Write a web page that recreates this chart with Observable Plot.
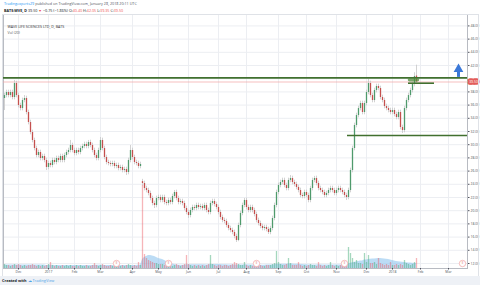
<!DOCTYPE html>
<html><head><meta charset="utf-8">
<script src="https://cdn.jsdelivr.net/npm/d3@7"></script>
<script src="https://cdn.jsdelivr.net/npm/@observablehq/plot@0.6"></script>
<style>
body{margin:0;width:480px;height:285px;background:#fff;font-family:"Open Sans",sans-serif;overflow:hidden;position:relative}
.hl{position:absolute;left:4px;font-size:3.7px;line-height:4px;white-space:nowrap;color:#50535e}
#chart{position:absolute;left:0;top:14px;width:480px;height:262px}
#chart svg{position:absolute;left:0;top:0}
#panel{position:absolute;left:2px;top:14px;width:475px;height:261px;border:1px solid #dfe2e7;pointer-events:none}
#ftr{position:absolute;left:0;top:276px;width:480px;height:9px;background:#eef1f6;font-size:3.8px;line-height:9px;white-space:nowrap}
</style></head><body>
<div class="hl" style="top:2px"><span style="color:#2196f3">Tradingexperts29</span> published on TradingView.com, January 28, 2018 20:11 UTC</div>
<div class="hl" style="top:9px;color:#131722"><b>BATS:WVE, D</b> 39.50 <span style="color:#ef5350">▼</span> −0.75 (−1.86%) O:<span style="color:#ef5350">40.40</span> H:<span style="color:#ef5350">42.05</span> L:<span style="color:#ef5350">39.35</span> C:<span style="color:#ef5350">39.50</span></div>
<div id="chart"></div>
<div id="panel"></div>
<div id="ftr"><span style="margin-left:2px;font-weight:bold;color:#131722">Created with</span> <span style="color:#4da3e8">☁ TradingView</span></div>
<script>
// Daily-ish bars, Nov 2016 – Jan 26 2018 (WVE)
const open = [37.00,37.45,37.91,37.45,37.91,37.15,39.27,37.45,35.94,35.48,36.70,37.00,34.88,33.36,31.85,30.64,29.42,28.36,28.82,27.91,
28.21,27.61,26.55,27.15,26.85,27.61,27.30,27.91,27.61,28.21,27.61,28.36,28.82,29.12,29.88,29.12,28.67,29.12,28.82,29.42,
29.73,30.03,29.73,30.33,29.88,29.12,28.36,27.91,29.12,30.64,29.42,28.06,27.30,27.15,27.00,27.15,26.70,26.85,26.39,26.55,
26.09,26.24,25.79,27.61,29.12,28.06,27.30,27.15,26.70,24.40,24.12,23.36,23.06,22.61,21.85,21.09,20.79,21.85,22.00,21.55,
22.00,21.24,21.09,21.55,21.24,22.15,22.76,21.85,21.24,21.39,21.09,20.33,19.73,19.27,20.03,20.48,20.33,20.79,20.48,20.64,
20.33,20.79,20.03,19.73,21.09,21.39,20.94,20.48,19.73,18.97,18.52,18.36,17.76,17.30,17.00,16.70,16.09,15.48,17.76,19.58,
20.79,21.55,20.48,20.03,20.48,20.03,19.42,18.52,18.06,17.61,17.30,17.45,17.15,16.70,17.30,18.82,20.79,22.76,23.82,24.27,
24.58,23.82,23.36,24.58,24.88,24.27,23.97,23.52,23.06,22.30,22.15,22.76,22.30,21.55,23.36,24.58,24.88,24.12,23.36,23.06,
22.76,22.30,22.61,23.06,23.36,23.06,22.61,23.06,23.36,23.06,22.76,22.30,22.00,23.06,26.09,29.42,32.91,34.42,35.48,36.24,
34.88,36.24,37.91,39.27,37.45,36.70,38.21,38.82,38.52,37.15,36.70,35.79,35.48,35.18,34.88,35.18,34.58,34.12,34.88,32.61,
32.15,35.48,36.70,37.45,38.21,39.12,40.40];
const high = [37.80,38.26,38.26,38.26,38.26,39.73,39.62,37.80,36.29,37.05,37.45,37.35,35.23,33.71,32.20,30.99,29.77,29.17,29.17,28.56,
28.56,27.96,27.50,27.50,27.96,27.96,28.26,28.26,28.56,28.56,28.71,29.17,29.47,30.64,30.23,29.47,29.47,29.47,29.77,30.08,
30.38,30.38,30.64,30.68,30.23,29.47,28.71,29.47,31.09,30.99,29.77,28.41,27.65,27.50,27.50,27.50,27.20,27.20,26.90,26.90,
26.59,26.59,27.96,29.88,29.47,28.41,27.65,27.50,27.35,24.75,24.47,23.71,23.41,22.96,22.20,21.44,22.20,22.35,22.35,22.35,
22.35,21.59,21.90,21.90,22.50,23.06,23.11,22.20,21.74,21.74,21.44,20.68,20.08,20.38,20.83,20.83,21.14,21.14,20.99,20.99,
21.14,21.14,20.38,21.44,21.74,21.74,21.29,20.83,20.08,19.32,18.87,18.71,18.11,17.65,17.35,17.05,16.44,18.11,19.93,21.14,
21.85,21.90,20.83,20.83,20.83,20.38,19.77,18.87,18.41,17.96,17.80,17.80,17.50,17.65,19.17,21.14,23.11,24.17,24.62,24.93,
24.93,24.17,24.93,25.33,25.23,24.62,24.32,23.87,23.41,22.65,23.11,23.11,22.65,23.71,24.93,25.20,25.23,24.47,23.71,23.41,
23.11,22.96,23.41,23.71,23.71,23.41,23.41,23.71,23.71,23.41,23.11,22.65,23.41,26.44,29.77,33.26,34.77,35.83,36.59,36.59,
36.59,38.26,39.90,39.62,37.80,38.56,39.17,39.17,38.87,37.50,37.05,36.14,35.83,35.53,35.53,35.53,34.93,35.23,35.23,32.96,
35.83,37.05,37.80,38.56,39.47,40.90,42.05];
const low = [35.18,37.10,37.10,37.10,36.80,36.80,37.10,35.59,35.13,35.13,36.35,34.53,33.01,31.50,30.29,29.07,28.01,28.01,27.56,27.56,
27.26,26.09,26.20,26.50,26.50,26.95,26.95,27.26,27.26,27.26,27.26,28.01,28.47,28.77,28.77,28.32,28.32,28.47,28.47,29.07,
29.38,29.38,29.38,29.53,28.77,28.01,27.56,27.56,28.77,29.07,27.71,26.95,26.80,26.65,26.65,26.35,26.35,26.04,26.04,25.74,
25.74,25.33,25.44,27.26,27.71,26.95,26.80,26.35,26.35,23.77,23.01,22.71,22.26,21.50,20.74,20.33,20.44,21.50,21.20,21.20,
20.89,20.74,20.74,20.89,20.89,21.80,21.50,20.89,20.89,20.74,19.98,19.38,18.82,18.92,19.68,19.98,19.98,20.13,20.13,19.98,
19.98,19.68,19.38,19.38,20.74,20.59,20.13,19.38,18.62,18.17,18.01,17.41,16.95,16.65,16.35,15.74,15.18,15.30,17.41,19.23,
20.44,20.13,19.68,19.68,19.68,19.07,18.17,17.71,17.26,16.95,16.95,16.80,16.39,16.35,16.95,18.47,20.44,22.41,23.47,23.92,
23.47,23.01,23.01,24.23,23.92,23.62,23.17,22.71,21.95,21.80,21.80,21.95,21.20,21.20,23.01,24.23,23.77,23.01,22.71,22.41,
21.95,21.95,22.26,22.71,22.71,22.26,22.26,22.71,22.71,22.41,21.95,21.55,21.65,22.71,25.74,29.07,32.56,34.07,35.13,34.53,
34.53,35.89,37.56,37.10,36.35,36.35,37.86,38.17,36.80,36.35,35.44,35.13,34.83,34.53,34.53,34.23,33.77,33.77,32.26,31.70,
31.80,35.13,36.35,37.10,37.86,38.77,39.35];
const close = [37.45,37.91,37.45,37.91,37.15,39.27,37.45,35.94,35.48,36.70,37.00,34.88,33.36,31.85,30.64,29.42,28.36,28.82,27.91,28.21,
27.61,26.55,27.15,26.85,27.61,27.30,27.91,27.61,28.21,27.61,28.36,28.82,29.12,29.88,29.12,28.67,29.12,28.82,29.42,29.73,
30.03,29.73,30.33,29.88,29.12,28.36,27.91,29.12,30.64,29.42,28.06,27.30,27.15,27.00,27.15,26.70,26.85,26.39,26.55,26.09,
26.24,25.79,27.61,29.12,28.06,27.30,27.15,26.70,27.00,24.12,23.36,23.06,22.61,21.85,21.09,20.79,21.85,22.00,21.55,22.00,
21.24,21.09,21.55,21.24,22.15,22.76,21.85,21.24,21.39,21.09,20.33,19.73,19.27,20.03,20.48,20.33,20.79,20.48,20.64,20.33,
20.79,20.03,19.73,21.09,21.39,20.94,20.48,19.73,18.97,18.52,18.36,17.76,17.30,17.00,16.70,16.09,15.48,17.76,19.58,20.79,
21.55,20.48,20.03,20.48,20.03,19.42,18.52,18.06,17.61,17.30,17.45,17.15,16.70,17.30,18.82,20.79,22.76,23.82,24.27,24.58,
23.82,23.36,24.58,24.88,24.27,23.97,23.52,23.06,22.30,22.15,22.76,22.30,21.55,23.36,24.58,24.88,24.12,23.36,23.06,22.76,
22.30,22.61,23.06,23.36,23.06,22.61,23.06,23.36,23.06,22.76,22.30,22.00,23.06,26.09,29.42,32.91,34.42,35.48,36.24,34.88,
36.24,37.91,39.27,37.45,36.70,38.21,38.82,38.52,37.15,36.70,35.79,35.48,35.18,34.88,35.18,34.58,34.12,34.88,32.61,32.15,
35.48,36.70,37.45,38.21,39.12,40.33,39.50];
// volume (thousand shares) and its 20-period average
const volume = [200,150,150,100,150,200,150,200,150,100,150,100,150,150,200,150,100,150,100,150,
100,150,200,300,150,100,150,100,100,150,100,150,100,150,100,100,150,100,150,100,
100,150,100,100,150,250,150,100,150,200,150,100,100,150,100,100,150,100,100,150,
100,150,200,150,100,150,100,300,150,4150,700,500,400,350,300,250,250,200,200,200,
150,200,150,150,100,150,200,150,100,150,200,650,200,150,100,150,100,150,100,150,
100,150,200,650,200,150,100,150,150,100,150,150,100,150,200,300,250,200,150,150,
300,150,100,150,100,150,150,100,150,100,100,150,150,150,200,250,850,300,200,150,
150,200,500,250,150,150,150,300,150,100,150,100,150,200,150,150,100,300,150,100,
150,100,150,300,150,100,150,100,150,200,150,200,1050,750,500,300,400,250,250,200,
750,300,650,250,250,300,200,500,250,200,150,200,150,300,150,150,200,150,200,150,
400,250,200,150,200,300,500];
const volumeMA = [175,175,175,175,175,175,175,175,175,175,175,175,175,175,175,175,175,175,175,175,
175,150,150,160,160,150,150,150,150,150,150,150,150,150,150,150,150,150,150,150,
150,150,150,150,150,160,160,160,160,160,155,150,150,150,150,150,150,150,150,150,
150,150,155,155,155,155,155,165,165,450,550,600,650,650,625,600,550,500,475,450,
400,350,300,250,225,200,175,165,165,165,165,190,190,190,190,190,190,190,190,190,
185,180,175,195,195,195,195,195,195,190,190,185,175,170,170,180,180,180,180,180,
185,185,180,175,170,170,165,165,165,165,165,170,170,170,175,185,210,215,215,215,
215,215,225,225,220,215,210,210,205,200,190,185,180,180,180,180,180,185,185,180,
180,175,175,180,180,180,180,175,175,180,180,200,230,260,290,310,330,350,370,380,
420,430,450,460,470,480,490,500,500,490,475,460,450,430,400,380,350,340,320,310,
300,290,280,270,260,255,250];

// axis labels (40.00 is hidden behind the last-price label, as in the reference)
const priceGrid = [12,14,16,18,20,22,24,26,28,30,32,34,36,38,40,42,44,46,48];
const priceLabels = [12,14,16,18,20,22,24,26,28,30,32,34,36,38,42,44,46,48];
const monthTickIndex = [7,22,35,48,64,77,92,107,121,137,151,166,181,194,208,222];
const monthLabels = ["Dec","2017","Feb","Mar","Apr","May","Jun","Jul","Aug","Sep","Oct","Nov","Dec","2018","Feb","Mar"];

// drawn annotations
const levelFull = [40.12];
const levelSegments = [{y: 39.32, x1: 202, x2: 215}, {y: 31.4, x1: 171.5, x2: 231.5}];
const lastPrice = [39.50];
const markerOval = [{x1: 202.5, x2: 206.5, y: 39.85}];
const upArrow = [{x: 227, y1: 40.2, y2: 41.3, head: 41.45}];
const earningsIdx = [56, 82, 126, 170, 229];

const bars = close.map((c, i) => ({i, o: open[i], h: high[i], l: low[i], c, vol: volume[i], ma: volumeMA[i]}));
const UP = "#4f9a6c", DN = "#c4504e", GREEN = "#41702f";

const common = {width: 480, height: 262, marginLeft: 3, marginRight: 13, marginTop: 0, marginBottom: 8};

const main = Plot.plot({
  ...common,
  style: {background: "white", fontFamily: "'Open Sans', sans-serif", color: "#50535e"},
  x: {domain: [-0.5, 231.5], axis: null},
  y: {domain: [11.24, 49.73], axis: null},
  marks: [
    Plot.gridX(monthTickIndex, {stroke: "#eceef2", strokeOpacity: 1}),
    Plot.gridY(priceGrid, {stroke: "#eceef2", strokeOpacity: 1}),
    Plot.frame({stroke: "#b8bbc2"}),
    Plot.axisX(monthTickIndex, {tickFormat: d => monthLabels[monthTickIndex.indexOf(d)], tickSize: 1.5, tickPadding: 1, fontSize: 3.4}),
    Plot.axisY(priceLabels, {anchor: "right", tickFormat: d => d.toFixed(2), tickSize: 1.5, tickPadding: 1.5, fontSize: 3.4}),
    Plot.ruleY(lastPrice, {stroke: "#f2a3a3", strokeWidth: 0.7}),
    Plot.ruleX(bars, {x: "i", y1: "l", y2: "h", stroke: "#c6c6c6", strokeWidth: 0.8}),
    Plot.ruleX(bars, {x: "i", y1: "o", y2: "c", stroke: d => d.c >= d.o ? UP : DN, strokeWidth: 1.3}),
    Plot.ruleY(levelFull, {stroke: GREEN, strokeWidth: 1.6}),
    Plot.ruleY(levelSegments, {y: "y", x1: "x1", x2: "x2", stroke: GREEN, strokeWidth: 1.6}),
    Plot.link(markerOval, {x1: "x1", x2: "x2", y1: "y", y2: "y", stroke: "#4f8a3c", strokeOpacity: 0.75, strokeWidth: 3.5, strokeLinecap: "round"}),
    Plot.ruleX(upArrow, {x: "x", y1: "y1", y2: "y2", stroke: "#3b78d8", strokeWidth: 3}),
    Plot.dot(upArrow, {x: "x", y: "head", symbol: "triangle", r: 3.6, fill: "#3b78d8"}),
    Plot.text(["WAVE LIFE SCIENCES LTD, D, BATS"], {frameAnchor: "top-left", dx: 4, dy: 11, fontSize: 3.6, fill: "#333", textAnchor: "start"}),
    Plot.text(["Vol (20)"], {frameAnchor: "top-left", dx: 4, dy: 17, fontSize: 3.6, fill: "#555", textAnchor: "start"}),
    Plot.text(lastPrice, {y: d => d, frameAnchor: "right", dx: 6, text: d => d.toFixed(2), fill: "white", stroke: "#e35d5b", strokeWidth: 3.5, fontSize: 3.4, textAnchor: "middle"})
  ]
});

const vol = Plot.plot({
  ...common,
  style: {background: "transparent", fontFamily: "'Open Sans', sans-serif"},
  x: {domain: [-0.5, 231.5], axis: null},
  y: {domain: [0, 12700], axis: null},
  marks: [
    Plot.areaY(bars, {x: "i", y: "ma", fill: "#90c4ef", fillOpacity: 0.6}),
    Plot.ruleX(bars, {x: "i", y: "vol", stroke: d => d.c >= d.o ? "rgba(76,175,125,0.5)" : "rgba(235,90,100,0.45)", strokeWidth: 1.3}),
    Plot.dot(earningsIdx, {x: d => d, frameAnchor: "bottom", dy: -5, r: 3.2, stroke: "#f2a0a0", strokeWidth: 0.7, fill: "white"}),
    Plot.text(earningsIdx, {x: d => d, frameAnchor: "bottom", dy: -5, text: () => "E", fontSize: 3, fill: "#e06666"})
  ]
});

const host = document.getElementById("chart");
host.appendChild(main);
host.appendChild(vol);
</script>
</body></html>
